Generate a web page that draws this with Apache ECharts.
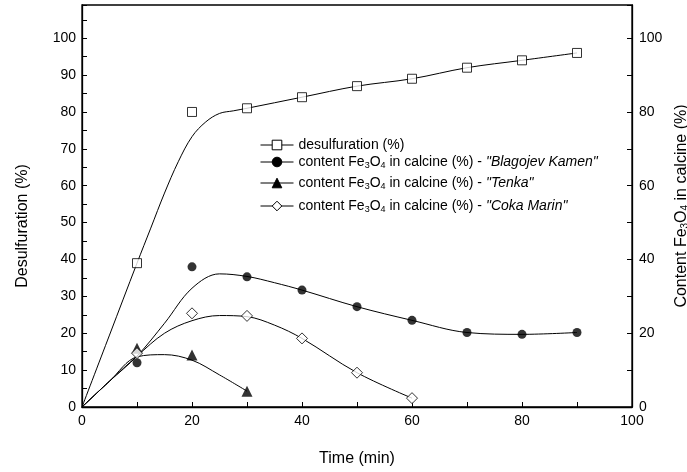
<!DOCTYPE html>
<html><head><meta charset="utf-8">
<script src="https://cdn.jsdelivr.net/npm/echarts@6/dist/echarts.min.js"></script>
<style>html,body{margin:0;padding:0;background:#fff}#c{width:687px;height:472px}</style>
</head><body><div id="c"></div>
<script>
// measured points
const timePts = [10, 20, 30, 40, 50, 60, 70, 80, 90];
const desulf = [39, 80, 81, 84, 87, 89, 92, 94, 96];
const blagojev = [12, 38, 35.3, 31.7, 27.2, 23.5, 20.2, 19.7, 20.2];
const tenkaTime = [10, 20, 30];
const tenka = [15.9, 14.1, 4.3];
const cokaTime = [10, 20, 30, 40, 50, 60];
const coka = [14.6, 25.4, 24.7, 18.6, 9.3, 2.4];

// fitted curves
const desulfFitTime = [0, 5, 10, 12.5, 15, 17.5, 20, 22.5, 25, 27.5, 30, 40, 50, 60, 70, 80, 90];
const desulfFit = [0, 19.5, 39, 48.5, 58, 66.5, 73.3, 77.3, 79.6, 80.3, 81, 84, 87, 89, 92, 94, 96];
const blagFitTime = [0, 5, 10, 15, 20, 25, 30, 35, 40, 50, 60, 70, 80, 90];
const blagFit = [0, 7, 13.8, 22.7, 32.2, 36.1, 35.4, 33.7, 31.7, 27.2, 23.5, 20.2, 19.7, 20.2];
const tenkaFitTime = [0, 5, 10, 15, 20, 25, 30];
const tenkaFit = [0, 7, 13.6, 14.2, 12.7, 8.7, 4.3];
const cokaFitTime = [0, 5, 10, 15, 20, 25, 30, 35, 40, 50, 60];
const cokaFit = [0, 7, 13.8, 20, 23.4, 24.8, 24.5, 22.2, 18.6, 9.3, 2.4];

// tick labels
const xTickLabels = [0, 20, 40, 60, 80, 100];
const yLeftTickLabels = [0, 10, 20, 30, 40, 50, 60, 70, 80, 90, 100];
const yRightTickLabels = [0, 20, 40, 60, 80, 100];

const names = [
  'desulfuration (%)',
  'content Fe3O4 in calcine (%) - "Blagojev Kamen"',
  'content Fe3O4 in calcine (%) - "Tenka"',
  'content Fe3O4 in calcine (%) - "Coka Marin"'
];
const font = 'Liberation Sans';
const black = '#000';
const legendRich = {
  a: {fontSize: 14, color: black, fontFamily: font},
  i: {fontSize: 14, color: black, fontStyle: 'italic', fontFamily: font},
  s: {fontSize: 9, color: black, verticalAlign: 'bottom', padding: [7, 0, 0, 0], fontFamily: font}
};
const titleRich = {
  a: {fontSize: 16, color: black, fontFamily: font},
  s: {fontSize: 10, color: black, verticalAlign: 'bottom', padding: [8, 0, 0, 0], fontFamily: font}
};
function legendFmt(n) {
  if (n === names[0]) return '{a|desulfuration (%)}';
  const m = n.match(/- "(.*)"$/);
  return '{a|content Fe}{s|3}{a|O}{s|4}{a| in calcine (%) - }{i|"' + m[1] + '"}';
}
const zip = (xs, ys) => xs.map((x, i) => [x, ys[i]]);

function axisBase() {
  return {
    type: 'value',
    axisLine: {show: true, onZero: false, lineStyle: {color: black, width: 1.3}},
    axisTick: {show: true, inside: true, length: 5, lineStyle: {color: black, width: 1}},
    splitLine: {show: false},
    axisLabel: {color: black, fontSize: 14, fontFamily: font},
    nameTextStyle: {color: black, fontSize: 16, fontFamily: font}
  };
}

const symDefs = [
  {sym: 'rect', size: 9, item: {color: '#fff', borderColor: black, borderWidth: 1}, y: 0},
  {sym: 'circle', size: 9, item: {color: black, borderColor: black, borderWidth: 0}, y: 1},
  {sym: 'triangle', size: 11, item: {color: black, borderColor: black, borderWidth: 0}, y: 1},
  {sym: 'diamond', size: 11, item: {color: '#fff', borderColor: black, borderWidth: 1}, y: 1}
];
const fits = [zip(desulfFitTime, desulfFit), zip(blagFitTime, blagFit), zip(tenkaFitTime, tenkaFit), zip(cokaFitTime, cokaFit)];
const pts = [zip(timePts, desulf), zip(timePts, blagojev), zip(tenkaTime, tenka), zip(cokaTime, coka)];

const series = [];
names.forEach((n, k) => {
  const d = symDefs[k];
  series.push({
    name: n, type: 'line', yAxisIndex: d.y, data: fits[k], smooth: 0.35,
    symbol: d.sym, symbolSize: d.size, showSymbol: false,
    itemStyle: d.item, lineStyle: {color: black, width: 1}, z: 2, silent: true
  });
});
names.forEach((n, k) => {
  const d = symDefs[k];
  series.push({
    name: n, type: 'scatter', yAxisIndex: d.y, data: pts[k],
    symbol: d.sym, symbolSize: d.size, itemStyle: d.item, z: 3
  });
});

const legendTops = [138, 155, 176, 199];
const legends = names.map((n, k) => ({
  data: [n], left: 260, top: legendTops[k], orient: 'vertical', padding: 0,
  itemWidth: 33, itemHeight: 12, formatter: legendFmt,
  textStyle: {rich: legendRich, color: black},
  itemStyle: {borderWidth: 1},
  lineStyle: {width: 1, color: black},
  selectedMode: false
}));

const xAxis = Object.assign(axisBase(), {
  min: 0, max: 100, interval: 10,
  name: 'Time (min)', nameLocation: 'middle', nameGap: 44
});
xAxis.axisLabel.margin = 7;
xAxis.axisLabel.formatter = v => xTickLabels.includes(v) ? String(v) : '';

const yLeft = Object.assign(axisBase(), {
  min: 0, max: 109, interval: 5, position: 'left',
  name: 'Desulfuration (%)', nameLocation: 'middle', nameRotate: 90, nameGap: 51
});
yLeft.nameTextStyle.padding = [0, 40, 0, 0];
yLeft.axisLabel.margin = 6;
yLeft.axisLabel.formatter = v => yLeftTickLabels.includes(v) ? String(v) : '';

const yRight = Object.assign(axisBase(), {
  min: 0, max: 109, interval: 10, position: 'right',
  name: '{a|Content Fe}{s|3}{a|O}{s|4}{a| in calcine (%)}', nameLocation: 'middle', nameRotate: 90, nameGap: 30
});
yRight.nameTextStyle.rich = titleRich;
yRight.axisLabel.margin = 7;
yRight.axisLabel.formatter = v => yRightTickLabels.includes(v) ? String(v) : '';

const chart = echarts.init(document.getElementById('c'), null, {renderer: 'canvas'});
chart.setOption({
  animation: false,
  backgroundColor: '#fff',
  textStyle: {fontFamily: font},
  grid: {left: 82, right: 55, top: 5, bottom: 65, show: true, borderColor: black, borderWidth: 1.3,
         backgroundColor: 'transparent', containLabel: false, outerBoundsMode: 'none'},
  legend: legends,
  xAxis: [xAxis],
  yAxis: [yLeft, yRight],
  series: series
});
</script>
</body></html>
